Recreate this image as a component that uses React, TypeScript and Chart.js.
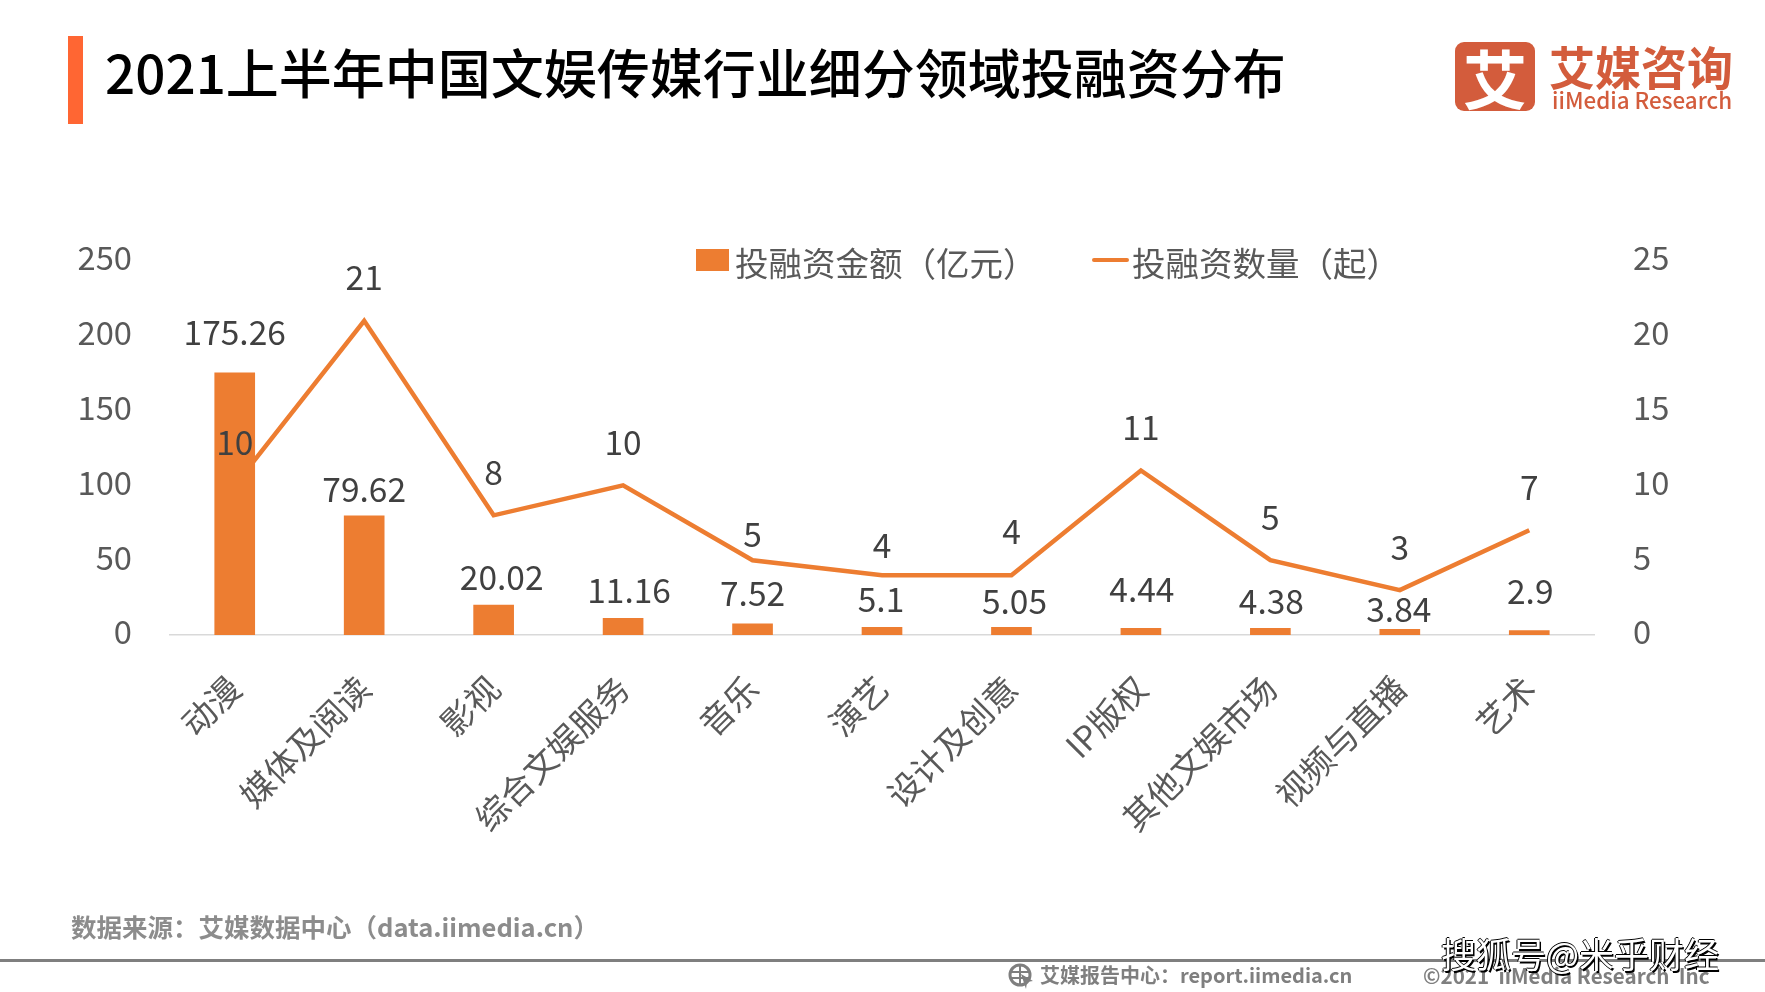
import React, { useEffect, useRef } from "react";
import { Chart, registerables } from "chart.js";

Chart.register(...registerables);

const categories = ["动漫", "媒体及阅读", "影视", "综合文娱服务", "音乐", "演艺", "设计及创意", "IP版权", "其他文娱市场", "视频与直播", "艺术"];
const amountValues = [175.26, 79.62, 20.02, 11.16, 7.52, 5.1, 5.05, 4.44, 4.38, 3.84, 2.9];
const countValues = [10, 21, 8, 10, 5, 4, 4, 11, 5, 3, 7];
const amountTicks = [0, 50, 100, 150, 200, 250];
const countTicks = [0, 5, 10, 15, 20, 25];

const amountLabelGap = [41, 27, 28, 28, 30, 28, 26, 39, 27, 20, 39];
const amountLabelShift = [0, 0, 8, 6, 0, -1, 3, 1, 1, -1, 1];
const countLabelGap = [43, 44, 43, 43, 26, 30, 44, 43, 43, 43, 43];

const FONT = '"Noto Sans CJK SC", "Noto Sans", sans-serif';
const ORANGE = "#ED7D31";

const dataLabels = {
  id: "dataLabels",
  afterDatasetsDraw(chart: any) {
    const ctx = chart.ctx;
    ctx.save();
    ctx.font = `400 33.5px ${FONT}`;
    ctx.fillStyle = "#404040";
    ctx.textAlign = "center";
    ctx.textBaseline = "middle";
    chart.getDatasetMeta(0).data.forEach((el: any, i: number) => {
      ctx.fillText(String(amountValues[i]), el.x + amountLabelShift[i], el.y - amountLabelGap[i]);
    });
    chart.getDatasetMeta(1).data.forEach((el: any, i: number) => {
      ctx.fillText(String(countValues[i]), el.x, el.y - countLabelGap[i]);
    });
    ctx.restore();
  },
};

function Txt(p: { x: number; y: number; size: number; color: string; weight?: number; children: React.ReactNode; extra?: React.CSSProperties }) {
  return (
    <div
      style={{
        position: "absolute",
        left: p.x,
        top: p.y,
        transform: "translateY(-50%)",
        fontFamily: FONT,
        fontSize: p.size,
        fontWeight: p.weight ?? 400,
        color: p.color,
        lineHeight: 1.2,
        whiteSpace: "pre",
        ...p.extra,
      }}
    >
      {p.children}
    </div>
  );
}

function Box(p: { x: number; y: number; w: number; h: number; color: string; r?: number }) {
  return <div style={{ position: "absolute", left: p.x, top: p.y, width: p.w, height: p.h, background: p.color, borderRadius: p.r ?? 0 }} />;
}

export default function App() {
  const ref = useRef<HTMLCanvasElement>(null);
  useEffect(() => {
    const chart = new Chart(ref.current as HTMLCanvasElement, {
      data: {
        labels: categories,
        datasets: [
          {
            type: "bar",
            label: "投融资金额（亿元）",
            data: amountValues,
            backgroundColor: ORANGE,
            barThickness: 40,
            yAxisID: "y",
            order: 1,
          },
          {
            type: "line",
            label: "投融资数量（起）",
            data: countValues,
            borderColor: ORANGE,
            borderWidth: 4.5,
            pointRadius: 0,
            tension: 0,
            yAxisID: "y1",
            order: 2,
          },
        ],
      } as any,
      options: {
        responsive: false,
        animation: false,
        devicePixelRatio: 1,
        layout: { padding: { top: 261, left: 0, right: 0, bottom: 0 } },
        plugins: { legend: { display: false }, tooltip: { enabled: false }, title: { display: false } },
        scales: {
          x: {
            grid: { display: false, drawTicks: false },
            border: { display: true, color: "#D9D9D9", width: 1.5 },
            ticks: { color: "#595959", font: { family: FONT, size: 33.5 }, minRotation: 45, maxRotation: 45, padding: 33, autoSkip: false },
            afterFit(s: any) { s.height = 357; },
          },
          y: {
            position: "left",
            min: 0,
            max: 250,
            grid: { display: false, drawTicks: false },
            border: { display: false },
            afterBuildTicks(s: any) { s.ticks = amountTicks.map((value) => ({ value })); },
            ticks: { color: "#595959", font: { family: FONT, size: 32.7 }, padding: 38, labelOffset: -3 },
            afterFit(s: any) { s.width = 170; },
          },
          y1: {
            position: "right",
            min: 0,
            max: 25,
            grid: { display: false, drawTicks: false },
            border: { display: false },
            afterBuildTicks(s: any) { s.ticks = countTicks.map((value) => ({ value })); },
            ticks: { color: "#595959", font: { family: FONT, size: 32.7 }, padding: 39, labelOffset: -3 },
            afterFit(s: any) { s.width = 171; },
          },
        },
      } as any,
      plugins: [dataLabels],
    });
    return () => chart.destroy();
  }, []);

  return (
    <div style={{ position: "fixed", left: 0, top: 0, width: 1765, height: 992, background: "#fff", overflow: "hidden" }}>
      <canvas ref={ref} width={1765} height={992} style={{ position: "absolute", left: 0, top: 0, display: "block" }} />

      <Box x={68} y={36} w={15} h={88} color="#FF6633" />
      <Txt x={105} y={72} size={53} color="#000" weight={500}>2021上半年中国文娱传媒行业细分领域投融资分布</Txt>

      <Box x={1455} y={42} w={80} h={69} r={9} color="#D35C3C" />
      <Txt x={1463} y={76} size={64} color="#fff" weight={700}>艾</Txt>
      <Txt x={1549} y={66} size={46} color="#D35C3C" weight={700}>艾媒咨询</Txt>
      <Txt x={1552} y={99} size={22.4} color="#D35C3C" weight={500}>iiMedia Research</Txt>

      <Box x={696} y={249} w={33} h={22} color={ORANGE} />
      <Txt x={735} y={262} size={33.5} color="#595959">投融资金额（亿元）</Txt>
      <Box x={1092} y={258} w={37} h={4} r={2} color={ORANGE} />
      <Txt x={1132} y={262} size={33.5} color="#595959">投融资数量（起）</Txt>

      <Txt x={71} y={926} size={25.5} color="#8C8C8C" weight={700}>数据来源：艾媒数据中心（data.iimedia.cn）</Txt>
      <Box x={0} y={959} w={1765} h={3} color="#7F7F7F" />
      <svg style={{ position: "absolute", left: 1008, top: 963, width: 27, height: 27 }} viewBox="0 0 27 27">
        <circle cx="12" cy="12" r="10" fill="none" stroke="#7F7F7F" strokeWidth="3" />
        <path d="M2 9H22M2 15H22M12 2V22" stroke="#7F7F7F" strokeWidth="2" />
        <path d="M13 11L25 18L19 19L18 26Z" fill="#7F7F7F" />
      </svg>
      <Txt x={1040} y={975} size={20} color="#7F7F7F" weight={700}>艾媒报告中心：report.iimedia.cn</Txt>
      <Txt x={1423} y={975} size={20.6} color="#7F7F7F" weight={700}>©2021  iiMedia Research  Inc</Txt>
      <Txt x={1441} y={953} size={35} color="#fff" extra={{ textShadow: "1.5px 1.5px 0 #000, -1px 0 0 #000, 0 -1px 0 #000" }}>搜狐号@米乎财经</Txt>
    </div>
  );
}
